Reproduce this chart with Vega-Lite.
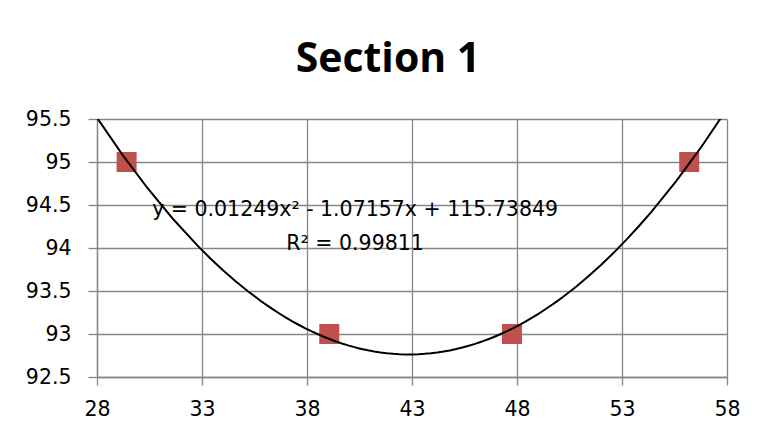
{
  "$schema": "https://vega.github.io/schema/vega-lite/v6.json",
  "width": 630,
  "height": 258,
  "autosize": {"type": "none"},
  "padding": {"left": 97, "top": 119, "right": 34, "bottom": 66},
  "background": "white",
  "title": {
    "text": "Section 1",
    "font": "Open Sans",
    "fontSize": 41,
    "fontWeight": "bold",
    "color": "black",
    "anchor": "middle",
    "dx": -24,
    "offset": 28
  },
  "config": {
    "view": {"stroke": null},
    "axis": {
      "domainColor": "#868686",
      "domainWidth": 1.3,
      "gridColor": "#868686",
      "gridWidth": 1.3,
      "gridOpacity": 1,
      "tickColor": "#868686",
      "tickWidth": 1.3,
      "labelFont": "DejaVu Sans",
      "labelFontSize": 20.5,
      "labelColor": "black",
      "title": null
    }
  },
  "data": {
    "values": [
      {"x": 29.41, "y": 95},
      {"x": 39.06, "y": 93},
      {"x": 47.76, "y": 93},
      {"x": 56.2, "y": 95}
    ]
  },
  "layer": [
    {
      "mark": {"type": "point", "shape": "square", "filled": true, "size": 400, "color": "#C0504D", "opacity": 1},
      "encoding": {
        "x": {
          "field": "x",
          "type": "quantitative",
          "scale": {"domain": [28, 58], "nice": false, "zero": false},
          "axis": {"values": [28, 33, 38, 43, 48, 53, 58], "tickSize": 8, "labelPadding": 14, "labelFlush": false}
        },
        "y": {
          "field": "y",
          "type": "quantitative",
          "scale": {"domain": [92.5, 95.5], "nice": false, "zero": false},
          "axis": {"values": [92.5, 93, 93.5, 94, 94.5, 95, 95.5], "format": "~f", "tickSize": 9, "labelPadding": 17, "labelFlush": false}
        }
      }
    },
    {
      "transform": [
        {"regression": "y", "on": "x", "method": "poly", "order": 2, "extent": [28, 58]}
      ],
      "mark": {"type": "line", "color": "black", "strokeWidth": 2, "clip": true},
      "encoding": {
        "x": {"field": "x", "type": "quantitative"},
        "y": {"field": "y", "type": "quantitative"}
      }
    },
    {
      "data": {"values": [{"eq": "y = 0.01249x² - 1.07157x + 115.73849", "r2": "R² = 0.99811"}]},
      "mark": {"type": "text", "font": "DejaVu Sans", "fontSize": 20.5, "color": "black", "align": "center", "baseline": "alphabetic"},
      "encoding": {
        "x": {"datum": 40.29, "type": "quantitative"},
        "y": {"datum": 94.372, "type": "quantitative"},
        "text": {"field": "eq"}
      }
    },
    {
      "data": {"values": [{"eq": "y = 0.01249x² - 1.07157x + 115.73849", "r2": "R² = 0.99811"}]},
      "mark": {"type": "text", "font": "DejaVu Sans", "fontSize": 20.5, "color": "black", "align": "center", "baseline": "alphabetic"},
      "encoding": {
        "x": {"datum": 40.29, "type": "quantitative"},
        "y": {"datum": 93.977, "type": "quantitative"},
        "text": {"field": "r2"}
      }
    }
  ]
}
